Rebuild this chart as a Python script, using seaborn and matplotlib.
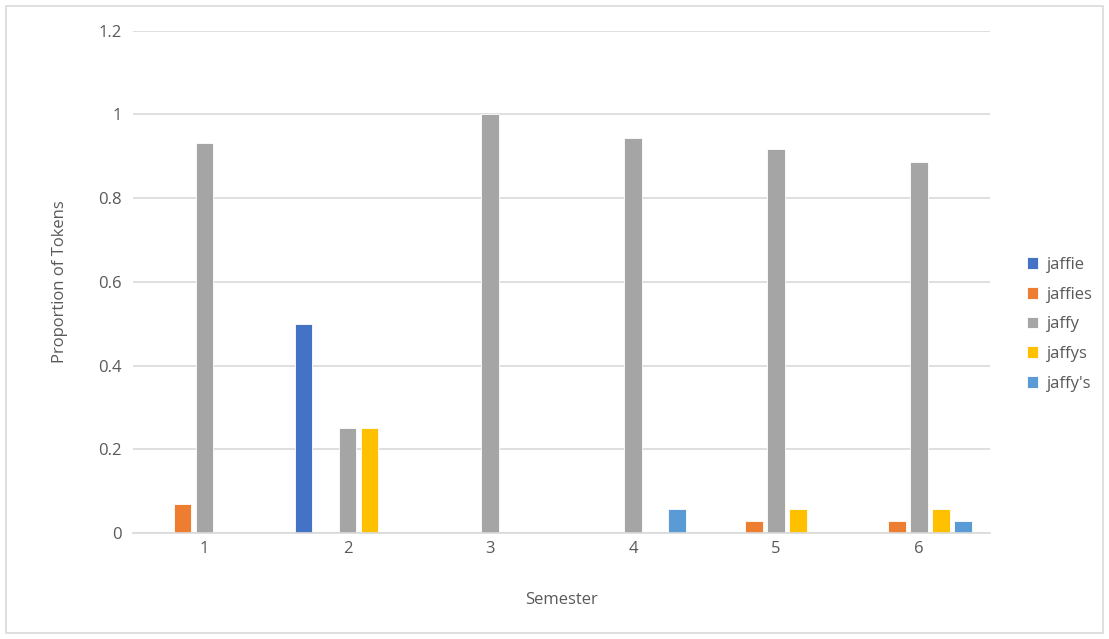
import matplotlib
matplotlib.use("Agg")
import matplotlib.pyplot as plt
from matplotlib.patches import Rectangle
import seaborn as sns
import pandas as pd

semesters = ["1", "2", "3", "4", "5", "6"]
forms = ["jaffie", "jaffies", "jaffy", "jaffys", "jaffy's"]
jaffie = [0.0, 0.5, 0.0, 0.0, 0.0, 0.0]
jaffies = [0.068, 0.0, 0.0, 0.0, 0.028, 0.028]
jaffy = [0.931, 0.25, 1.0, 0.944, 0.917, 0.886]
jaffys = [0.0, 0.25, 0.0, 0.0, 0.056, 0.058]
jaffy_apos = [0.0, 0.0, 0.0, 0.056, 0.0, 0.028]
colors = ["#4472C4", "#ED7D31", "#A5A5A5", "#FFC000", "#5B9BD5"]

series = [jaffie, jaffies, jaffy, jaffys, jaffy_apos]
rows = []
for form, vals in zip(forms, series):
    for sem, v in zip(semesters, vals):
        rows.append({"Semester": sem, "Form": form, "Proportion": v})
df = pd.DataFrame(rows)

sns.set_style("white")
plt.rcParams["font.family"] = ["Open Sans", "DejaVu Sans"]
text_color = "#595959"

fig = plt.figure(figsize=(11.09, 6.39), dpi=100)
ax = fig.add_axes([0.12, 0.166, 0.773, 0.786])

sns.barplot(data=df, x="Semester", y="Proportion", hue="Form",
            order=semesters, hue_order=forms, palette=colors, saturation=1,
            width=0.77, gap=0.2, ax=ax, legend=True,
            edgecolor="white", linewidth=0.6)

ax.set_ylim(0, 1.2)
ax.set_xlim(-0.5, 5.5)
ticks = [0, 0.2, 0.4, 0.6, 0.8, 1.0, 1.2]
ax.set_yticks(ticks)
ax.set_yticklabels(["0", "0.2", "0.4", "0.6", "0.8", "1", "1.2"])
ax.yaxis.grid(True, color="#D9D9D9", linewidth=1.2)
ax.set_axisbelow(True)
for s in ["top", "right", "left"]:
    ax.spines[s].set_visible(False)
ax.spines["bottom"].set_color("#D9D9D9")
ax.spines["bottom"].set_linewidth(1.2)
ax.tick_params(axis="both", length=0, labelsize=12, colors=text_color)
ax.tick_params(axis="x", pad=6)
ax.tick_params(axis="y", pad=8)

ax.set_xlabel("Semester", fontsize=12, color=text_color, labelpad=25)
ax.set_ylabel("Proportion of Tokens", fontsize=12, color=text_color, labelpad=22)

handles, labels = ax.get_legend_handles_labels()
ax.legend(handles, labels, loc="center left", bbox_to_anchor=(1.025, 0.415),
          frameon=False, fontsize=12, labelcolor=text_color,
          handlelength=0.7, handleheight=0.7, handletextpad=0.5,
          labelspacing=0.82)

fig.patches.append(Rectangle((6 / 1109, 6 / 639), 1 - 12 / 1109, 1 - 12 / 639,
                             transform=fig.transFigure, fill=False,
                             edgecolor="#D9D9D9", linewidth=1.2))

fig.savefig("out.png", dpi=100, facecolor="white")
